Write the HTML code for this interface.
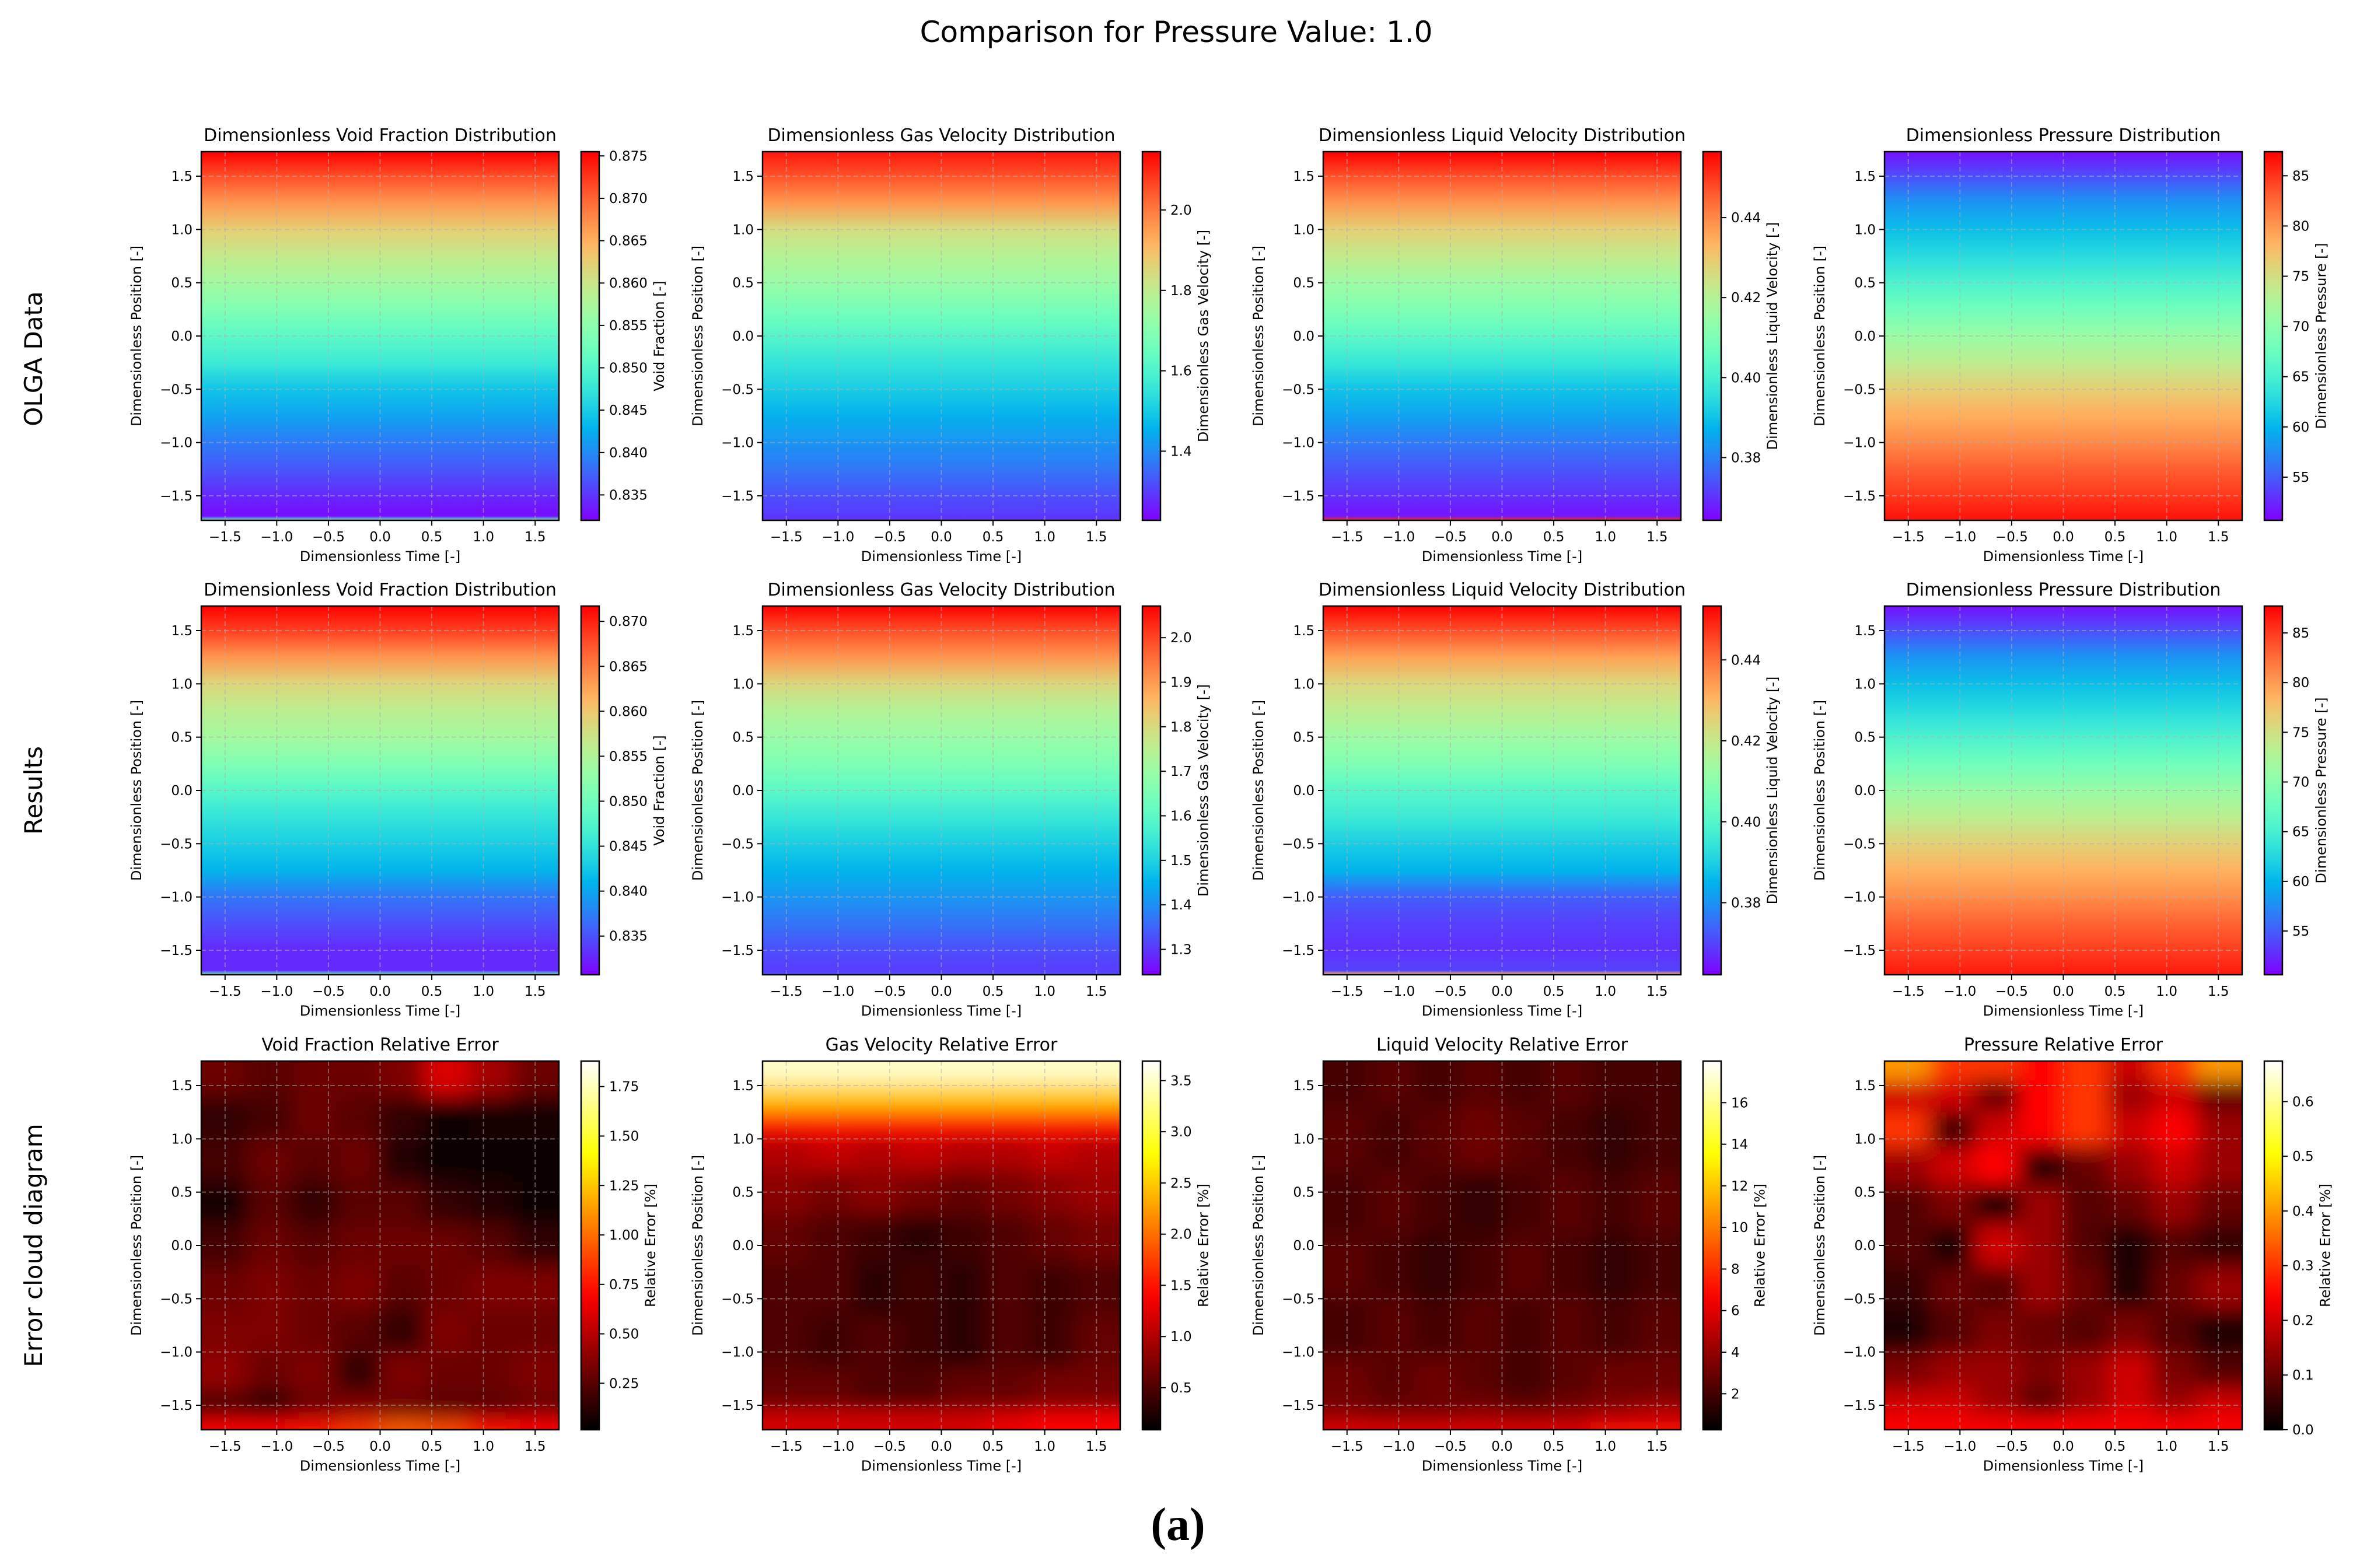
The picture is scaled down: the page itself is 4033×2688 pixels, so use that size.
<!DOCTYPE html>
<html><head><meta charset="utf-8">
<style>
html,body{margin:0;padding:0;background:#fff;}
svg{display:block;}
text{font-family:"DejaVu Sans","Liberation Sans",sans-serif;fill:#000;}
</style></head>
<body>
<svg id="fig" width="4033" height="2688" viewBox="0 0 4033 2688" xmlns="http://www.w3.org/2000/svg">
<defs id="defs">
<filter id="blur" filterUnits="userSpaceOnUse" x="-200" y="-200" width="4400" height="3000"><feGaussianBlur stdDeviation="18"/></filter>
</defs>
<text x="2016" y="72" font-size="50" text-anchor="middle">Comparison for Pressure Value: 1.0</text>
<text transform="translate(72,615) rotate(-90)" font-size="42" text-anchor="middle">OLGA Data</text>
<text transform="translate(72,1355) rotate(-90)" font-size="42" text-anchor="middle">Results</text>
<text transform="translate(72,2135) rotate(-90)" font-size="42" text-anchor="middle">Error cloud diagram</text>
<text x="2019" y="2640" font-size="80" text-anchor="middle" style="font-family:'Liberation Serif',serif;font-weight:bold">(a)</text>
</svg>
<script>
// ---- data ----
const profileY = [1.73,1.5,1.25,1.0,0.75,0.5,0.25,0,-0.25,-0.5,-0.75,-1.0,-1.25,-1.5,-1.65,-1.69,-1.73];
const r1Void = [0.8755,0.8712,0.8668,0.8625,0.8594,0.8568,0.8538,0.8507,0.8481,0.8442,0.8416,0.8390,0.8368,0.8342,0.8329,0.8329,0.8516];
const r1Gas = [2.12,2.05,1.96,1.84,1.78,1.73,1.67,1.61,1.55,1.50,1.45,1.41,1.37,1.32,1.30,1.29,1.29];
const r1Liq = [0.4565,0.4473,0.4381,0.4288,0.4224,0.4159,0.4104,0.4039,0.3975,0.3901,0.3846,0.3791,0.3744,0.3698,0.3671,0.3671,0.4519];
const r1Pres = [51.4,54.4,58.0,60.6,62.8,65.4,68.0,70.9,73.5,76.4,78.6,80.8,83.0,84.8,86.0,86.3,86.5];
const r2Void = [0.8717,0.8684,0.8635,0.8586,0.8561,0.8541,0.8512,0.8479,0.8451,0.8430,0.8410,0.8369,0.8348,0.8328,0.8328,0.8328,0.8492];
const r2Gas = [2.071,1.988,1.905,1.806,1.740,1.698,1.657,1.599,1.541,1.491,1.450,1.409,1.367,1.326,1.309,1.309,1.326];
const r2Liq = [0.4533,0.4442,0.4333,0.4241,0.4187,0.4132,0.4078,0.4005,0.3959,0.3895,0.3850,0.3731,0.3695,0.3677,0.3695,0.3695,0.4300];
const r2Pres = [51.3,54.3,57.9,60.6,62.8,65.4,68.0,70.9,73.5,76.4,78.6,80.8,83.0,84.8,86.0,86.3,86.5];

const errX = [-1.5,-1.07,-0.64,-0.21,0.21,0.64,1.07,1.5];
const errVoidY = [1.6,1.2,0.8,0.4,0,-0.4,-0.8,-1.2,-1.55,-1.71];
const errVoid = [
 [0.3,0.25,0.3,0.3,0.35,0.6,0.45,0.3],
 [0.15,0.2,0.3,0.25,0.15,0.05,0.08,0.08],
 [0.2,0.3,0.25,0.3,0.1,0.05,0.05,0.05],
 [0.08,0.25,0.15,0.25,0.25,0.15,0.1,0.05],
 [0.2,0.3,0.25,0.3,0.3,0.3,0.25,0.15],
 [0.3,0.35,0.3,0.35,0.25,0.3,0.35,0.35],
 [0.35,0.35,0.3,0.25,0.15,0.35,0.3,0.3],
 [0.4,0.3,0.35,0.15,0.35,0.3,0.3,0.35],
 [0.2,0.1,0.3,0.35,0.3,0.25,0.25,0.3],
 [0.7,0.7,0.75,0.85,0.95,0.9,0.75,0.7]];
const errGasY = [1.65,1.4,1.15,0.9,0.5,0.1,-0.4,-0.9,-1.4,-1.71];
const errGas = [
 [3.5,3.5,3.5,3.5,3.5,3.5,3.5,3.5],
 [2.5,2.5,2.5,2.5,2.5,2.5,2.5,2.5],
 [1.5,1.5,1.5,1.5,1.5,1.5,1.5,1.5],
 [1.0,1.1,1.0,1.1,1.0,1.0,1.1,1.0],
 [0.8,0.7,0.8,0.7,0.6,0.7,0.8,0.9],
 [0.6,0.5,0.4,0.3,0.4,0.5,0.6,0.7],
 [0.5,0.5,0.3,0.4,0.3,0.5,0.4,0.5],
 [0.5,0.4,0.5,0.4,0.3,0.5,0.4,0.6],
 [0.6,0.6,0.5,0.5,0.6,0.6,0.7,0.7],
 [1.2,1.2,1.2,1.2,1.2,1.3,1.4,1.4]];
const errLiqY = [1.6,1.0,0.4,-0.2,-0.8,-1.3,-1.6,-1.71];
const errLiq = [
 [2,2.5,2,2.5,2,2.5,2,2],
 [2.5,2,2.5,3,2.5,2,1.5,2],
 [2,2.5,2,1.5,2,2.5,2,2.5],
 [2.5,2,1.5,2,2.5,2,1.5,2],
 [2,2.5,2,2.5,2,2.5,2,2.5],
 [3,2.5,3,2.5,2,2.5,3,3],
 [3.5,3,3,3.5,3,3.5,4,4.5],
 [6,6,6,6,6,6,7,7]];
const errPresY = [1.7,1.4,1.1,0.75,0.4,0.0,-0.4,-0.8,-1.2,-1.5,-1.7];
const errPres = [
 [0.4,0.3,0.3,0.25,0.3,0.2,0.3,0.4],
 [0.2,0.2,0.1,0.25,0.3,0.15,0.2,0.1],
 [0.3,0.05,0.2,0.25,0.3,0.2,0.25,0.15],
 [0.15,0.2,0.25,0.03,0.1,0.15,0.2,0.15],
 [0.08,0.12,0.03,0.15,0.08,0.1,0.15,0.1],
 [0.08,0.03,0.2,0.15,0.08,0.03,0.08,0.05],
 [0.05,0.1,0.08,0.15,0.1,0.03,0.1,0.15],
 [0.03,0.08,0.12,0.1,0.08,0.12,0.08,0.03],
 [0.12,0.15,0.15,0.12,0.15,0.2,0.12,0.08],
 [0.2,0.2,0.15,0.08,0.15,0.2,0.15,0.2],
 [0.25,0.25,0.25,0.25,0.25,0.25,0.25,0.25]];

const axisTicks = [-1.5,-1.0,-0.5,0.0,0.5,1.0,1.5];
const tkVoid1 = [0.835,0.840,0.845,0.850,0.855,0.860,0.865,0.870,0.875];
const tkGas1 = [1.4,1.6,1.8,2.0];
const tkLiq = [0.38,0.40,0.42,0.44];
const tkPres = [55,60,65,70,75,80,85];
const tkVoid2 = [0.835,0.840,0.845,0.850,0.855,0.860,0.865,0.870];
const tkGas2 = [1.3,1.4,1.5,1.6,1.7,1.8,1.9,2.0];
const tkErrVoid = [0.25,0.50,0.75,1.00,1.25,1.50,1.75];
const tkErrGas = [0.5,1.0,1.5,2.0,2.5,3.0,3.5];
const tkErrLiq = [2,4,6,8,10,12,14,16];
const tkErrPres = [0.0,0.1,0.2,0.3,0.4,0.5,0.6];

// ---- layout ----
const NS = "http://www.w3.org/2000/svg";
const svg = document.getElementById('fig');
const defs = document.getElementById('defs');
const colX = [345,1307,2268,3230], rowY = [260,1039,1819], PW = 613, PH = 632, EXT = 1.73, TFS = 23;
function mk(tag, attrs, parent){const e=document.createElementNS(NS,tag);for(const k in attrs)e.setAttribute(k,attrs[k]);(parent||svg).appendChild(e);return e;}
function rainbow(t){t=Math.max(0,Math.min(1,t));const r=Math.abs(2*t-0.5),g=Math.sin(Math.PI*t),b=Math.cos(Math.PI*t/2);return rgb(r,g,b);}
function hot(t){t=Math.max(0,Math.min(1,t));const c=v=>Math.max(0,Math.min(1,v));return rgb(c(t/0.365),c((t-0.365)/0.381),c((t-0.746)/0.254));}
function rgb(r,g,b){const f=v=>Math.round(Math.max(0,Math.min(1,v))*255);return `rgb(${f(r)},${f(g)},${f(b)})`;}
function decimals(ticks){if(ticks===tkVoid1||ticks===tkVoid2)return 3;if(ticks===tkErrVoid||ticks===tkLiq)return 2;if(ticks===tkPres||ticks===tkErrLiq)return 0;return 1;}
let gid=0;

function panel(ci,ri,title,cbLabel,cmap,vmin,vmax,ticks,kind,data,rowsY){
  const x0=colX[ci],y0=rowY[ri];
  const xs=v=>x0+(v+EXT)/(2*EXT)*PW;
  const ys=v=>y0+(EXT-v)/(2*EXT)*PH;
  const norm=v=>(v-vmin)/(vmax-vmin);
  const g=mk('g',{});
  
  
  const t=mk('text',{x:x0+PW/2,y:y0-18,'font-size':30,'text-anchor':'middle'},g);t.textContent=title;
  
  const cid='clip'+(gid++);
  const cp=mk('clipPath',{id:cid},defs);mk('rect',{x:x0,y:y0,width:PW,height:PH},cp);
  const hg=mk('g',{'clip-path':`url(#${cid})`},g);
  
  if(kind==='profile'){
    const id='grad'+(gid++);
    const lg=mk('linearGradient',{id:id,gradientUnits:'userSpaceOnUse',x1:0,y1:y0,x2:0,y2:y0+PH},defs);
    profileY.forEach((py,i)=>{mk('stop',{offset:((ys(py)-y0)/PH).toFixed(4),'stop-color':cmap(norm(data[i]))},lg);});
    const r=mk('rect',{x:x0,y:y0,width:PW,height:PH,fill:`url(#${id})`},hg);
    
  } else {
    const bg=mk('g',{filter:'url(#blur)'},hg);
    rowsY.forEach((ry,i)=>{
      const top=i===0?ys(EXT)-80:(ys(rowsY[i-1])+ys(ry))/2;
      const bot=i===rowsY.length-1?ys(-EXT)+80:(ys(ry)+ys(rowsY[i+1]))/2;
      errX.forEach((cx,j)=>{
        const l=j===0?xs(-EXT)-80:(xs(errX[j-1])+xs(cx))/2;
        const rr=j===errX.length-1?xs(EXT)+80:(xs(cx)+xs(errX[j+1]))/2;
        const c=mk('rect',{x:l,y:top,width:rr-l+1,height:bot-top+1,fill:cmap(norm(data[i][j]))},bg);
        
        
      });
    });
  }
  axisTicks.forEach(v=>{
    mk('line',{x1:xs(v),x2:xs(v),y1:y0,y2:y0+PH,stroke:'#b0b0b0','stroke-opacity':0.5,'stroke-width':2,'stroke-dasharray':'8,5'},g);
    mk('line',{x1:x0,x2:x0+PW,y1:ys(v),y2:ys(v),stroke:'#b0b0b0','stroke-opacity':0.5,'stroke-width':2,'stroke-dasharray':'8,5'},g);
    mk('line',{x1:xs(v),x2:xs(v),y1:y0+PH,y2:y0+PH+9,stroke:'#000','stroke-width':2},g);
    mk('line',{x1:x0-9,x2:x0,y1:ys(v),y2:ys(v),stroke:'#000','stroke-width':2},g);
    const tx=mk('text',{x:xs(v),y:y0+PH+36,'font-size':TFS,'text-anchor':'middle'},g);tx.textContent=v.toFixed(1).replace('-','\u2212');
    
    const ty=mk('text',{x:x0-15,y:ys(v)+8,'font-size':TFS,'text-anchor':'end'},g);ty.textContent=v.toFixed(1).replace('-','\u2212');
    
  });
  mk('rect',{x:x0,y:y0,width:PW,height:PH,fill:'none',stroke:'#000','stroke-width':2.5},g);
  const xl=mk('text',{x:x0+PW/2,y:y0+PH+70,'font-size':24,'text-anchor':'middle'},g);xl.textContent='Dimensionless Time [-]';
  
  const yl=mk('text',{transform:`translate(${x0-103},${y0+PH/2}) rotate(-90)`,'font-size':24,'text-anchor':'middle'},g);yl.textContent='Dimensionless Position [-]';
  
  // colorbar
  const cx=x0+651,cw=31;
  const cid2='cb'+(gid++);
  const lg2=mk('linearGradient',{id:cid2,x1:0,y1:1,x2:0,y2:0},defs);
  for(let k=0;k<=20;k++)mk('stop',{offset:k/20,'stop-color':cmap(k/20)},lg2);
  const cb=mk('rect',{x:cx,y:y0,width:cw,height:PH,fill:`url(#${cid2})`,stroke:'#000','stroke-width':2.5},g);
  
  const cys=v=>y0+PH-(v-vmin)/(vmax-vmin)*PH;
  const d=decimals(ticks);let maxLen=0;
  ticks.forEach(v=>{
    mk('line',{x1:cx+cw,x2:cx+cw+9,y1:cys(v),y2:cys(v),stroke:'#000','stroke-width':2},g);
    const s=v.toFixed(d);maxLen=Math.max(maxLen,s.length);
    const tt=mk('text',{x:cx+cw+17,y:cys(v)+8,'font-size':TFS},g);tt.textContent=s;
    
  });
  const tw=(maxLen-(d>0?1:0))*0.636*TFS+(d>0?0.318*TFS:0);
  const lx=cx+cw+17+tw+28;
  const cl=mk('text',{transform:`translate(${lx},${y0+PH/2}) rotate(-90)`,'font-size':24,'text-anchor':'middle'},g);cl.textContent=cbLabel;
  
}

const T=['Dimensionless Void Fraction Distribution','Dimensionless Gas Velocity Distribution','Dimensionless Liquid Velocity Distribution','Dimensionless Pressure Distribution'];
const L=['Void Fraction [-]','Dimensionless Gas Velocity [-]','Dimensionless Liquid Velocity [-]','Dimensionless Pressure [-]'];
panel(0,0,T[0],L[0],rainbow,0.832,0.8755,tkVoid1,'profile',r1Void);
panel(1,0,T[1],L[1],rainbow,1.228,2.145,tkGas1,'profile',r1Gas);
panel(2,0,T[2],L[2],rainbow,0.3643,0.4565,tkLiq,'profile',r1Liq);
panel(3,0,T[3],L[3],rainbow,50.7,87.4,tkPres,'profile',r1Pres);
panel(0,1,T[0],L[0],rainbow,0.8307,0.8717,tkVoid2,'profile',r2Void);
panel(1,1,T[1],L[1],rainbow,1.243,2.071,tkGas2,'profile',r2Gas);
panel(2,1,T[2],L[2],rainbow,0.3622,0.4533,tkLiq,'profile',r2Liq);
panel(3,1,T[3],L[3],rainbow,50.6,87.7,tkPres,'profile',r2Pres);
panel(0,2,'Void Fraction Relative Error','Relative Error [%]',hot,0.015,1.879,tkErrVoid,'grid',errVoid,errVoidY);
panel(1,2,'Gas Velocity Relative Error','Relative Error [%]',hot,0.09,3.69,tkErrGas,'grid',errGas,errGasY);
panel(2,2,'Liquid Velocity Relative Error','Relative Error [%]',hot,0.27,18.0,tkErrLiq,'grid',errLiq,errLiqY);
panel(3,2,'Pressure Relative Error','Relative Error [%]',hot,0.0,0.674,tkErrPres,'grid',errPres,errPresY);
</script>
</body></html>
